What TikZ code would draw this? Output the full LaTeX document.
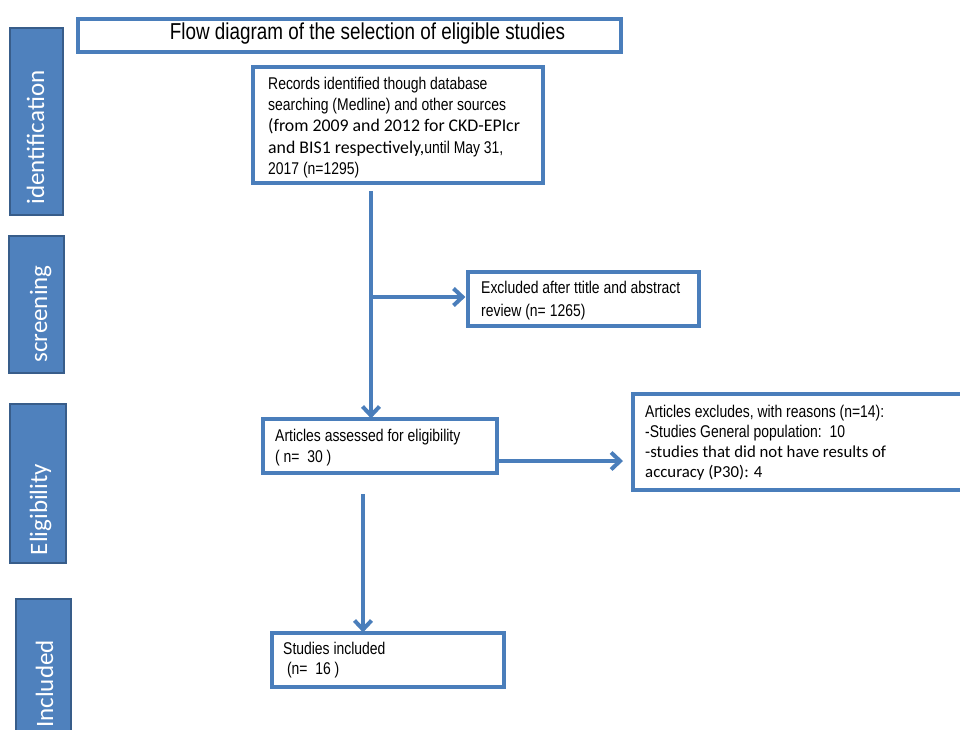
\documentclass[tikz,border=0pt]{standalone}
\usepackage{fontspec}
\setmainfont{Liberation Sans}
\newfontfamily\narrowfont{Liberation Sans}[FakeStretch=0.82]
\newfontfamily\calfont{Carlito}
\usetikzlibrary{arrows.meta}
\definecolor{lineblue}{HTML}{4A7EBB}
\definecolor{fillblue}{HTML}{4F81BD}
\definecolor{edgeblue}{HTML}{385D8A}
\begin{document}
\begin{tikzpicture}[x=1pt,y=-1pt,
  box/.style={draw=lineblue, line width=3.2pt, fill=white, inner sep=0pt},
  boxtext/.style={anchor=west, align=left, inner sep=0pt,
    font=\narrowfont\fontsize{17}{21.3}\selectfont},
  sidebox/.style={draw=edgeblue, line width=2pt, fill=fillblue, inner sep=0pt},
  sidelabel/.style={rotate=90, anchor=base, text=white, inner sep=0pt,
    font=\calfont\fontsize{25}{30}\selectfont},
  flow/.style={draw=lineblue, line width=4pt, -{Straight Barb[length=9pt,width=17pt,line width=4pt]}}]
\useasboundingbox (0,0) rectangle (960,729);
\clip (0,0) rectangle (960,729);
\fill[white] (0,0) rectangle (960,729);

% side boxes
\node[sidebox, minimum width=53pt, minimum height=187pt] (sid) at (36.5,121.5) {};
\node[sidelabel] (sidt) at (44,137.5) {identification};
\node[sidebox, minimum width=55pt, minimum height=137pt] (ssc) at (36.5,304.5) {};
\node[sidelabel] (ssct) at (47,314) {screening};
\node[sidebox, minimum width=56pt, minimum height=159pt] (sel) at (38,483.5) {};
\node[sidelabel] (selt) at (47,509.5) {Eligibility};
\node[sidebox, minimum width=55pt, minimum height=141pt] (sin) at (43.5,669.5) {};
\node[sidelabel] (sint) at (53,684) {Included};

% title
\node[box, minimum width=543pt, minimum height=33pt] (title) at (349.5,35.5) {};
\node[font=\narrowfont\fontsize{23}{27}\selectfont, inner sep=0pt] (titlet) at (367.5,34) {Flow diagram of the selection of eligible studies};

% boxes
\node[box, minimum width=290pt, minimum height=116pt] (rec) at (398,125) {};
\node[boxtext] (rect) at (268,127.5)
 {Records identified though database\\
  searching (Medline) and other sources\\
  {\calfont\fontsize{17.8}{21.3}\selectfont (from 2009 and 2012 for CKD-EPIcr}\\
  {\calfont\fontsize{17.8}{21.3}\selectfont and BIS1 respectively,}until May 31,\\
  2017 (n=1295)};

\node[box, minimum width=231pt, minimum height=54pt] (exc) at (583.5,299) {};
\node[boxtext, font=\narrowfont\fontsize{17}{22.5}\selectfont] (exct) at (481,300.5)
 {Excluded after ttitle and abstract\\ review (n= 1265)};

\node[box, minimum width=234pt, minimum height=54pt] (art) at (380,446) {};
\node[boxtext] (artt) at (275,447.5)
 {Articles assessed for eligibility\\ ( n=\ \ 30 )};

\node[box, minimum width=347pt, minimum height=96pt] (artx) at (806.5,442) {};
\node[boxtext, font=\narrowfont\fontsize{17}{20}\selectfont] (artxt) at (645,443)
 {Articles excludes, with reasons (n=14):\\
  -Studies General population:\ \ 10\\
  {\calfont\fontsize{16.8}{20}\selectfont -studies that did not have results of}\\
  {\calfont\fontsize{16.8}{20}\selectfont accuracy (P30): 4}};

\node[box, minimum width=232pt, minimum height=54pt] (stud) at (388,660) {};
\node[boxtext, font=\narrowfont\fontsize{17}{20.5}\selectfont] (studt) at (283,660)
 {Studies included\\ \ (n=\ \ 16 )};

% connectors
\coordinate (a1) at (371,191);
\coordinate (b1) at (371,297);
\coordinate (c1) at (497,461);
\coordinate (c2) at (623,461);
\coordinate (d1) at (363,494);
\draw[flow] (a1) -- ([yshift=-1pt]a1 |- art.north);
\draw[flow] (b1) -- ([xshift=-1pt]b1 -| exc.west);
\draw[flow] (c1) -- (c2);
\draw[flow] (d1) -- ([yshift=-1pt]d1 |- stud.north);
\end{tikzpicture}
\end{document}
